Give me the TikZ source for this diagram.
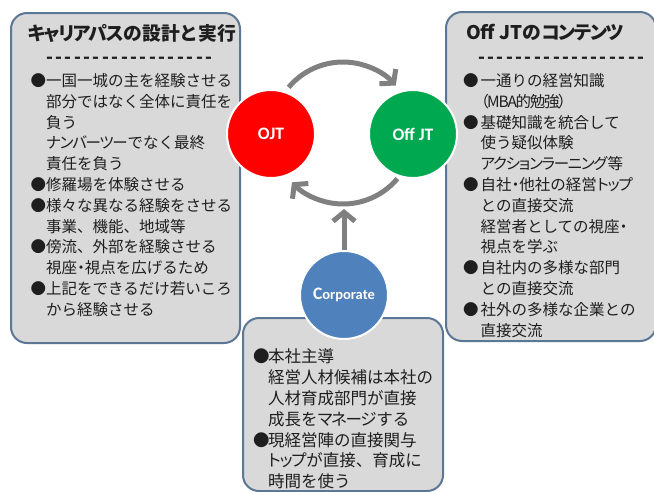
\documentclass[tikz,border=0pt]{standalone}
\usepackage{fontspec}
\setmainfont{Noto Sans CJK JP}
\newfontfamily\latinb{Carlito}
\usetikzlibrary{arrows.meta}
\definecolor{boxfill}{RGB}{217,217,217}
\definecolor{boxline}{RGB}{92,118,150}
\definecolor{txt}{RGB}{30,30,30}
\definecolor{ojtred}{RGB}{255,0,0}
\definecolor{offgreen}{RGB}{0,168,80}
\definecolor{corpblue}{RGB}{79,129,189}
\definecolor{arrgray}{RGB}{128,128,128}
\newcommand{\kp}[1]{{\addfontfeature{RawFeature=+palt,LetterSpace=-8}#1}}
\newcommand{\bl}{\makebox[15.5pt][l]{●}}
\newcommand{\ind}{\hspace*{15.5pt}}
\newcommand{\blR}{\makebox[17.5pt][l]{●}}
\newcommand{\indR}{\hspace*{17.5pt}}
\newcommand{\blB}{\makebox[15pt][l]{●}}
\newcommand{\indB}{\hspace*{15pt}}
\newcommand{\dashrow}{\hbox to 178pt{\cleaders\hbox to 9.37pt{\hss-\hss}\hfill}}
\tikzset{
  panel/.style={draw=boxline, line width=2pt, fill=boxfill, rounded corners=16pt, inner sep=0pt},
  circ/.style={circle, draw=white, line width=2pt, minimum size=88pt, inner sep=0pt, text=white,
    font=\latinb\bfseries\fontsize{17.5}{17.5}\selectfont},
  arr/.style={draw=arrgray, line width=5pt, -{Straight Barb[length=9pt,width=22pt]}},
  body/.style={anchor=base west, align=left, inner sep=0pt, text=txt, font=\fontsize{15.5}{20.8}\selectfont},
  title/.style={anchor=west, inner sep=0pt, text=txt, font=\bfseries\fontsize{18.8}{20}\selectfont},
  dashes/.style={anchor=west, inner sep=0pt, text=txt, font=\bfseries\fontsize{18}{20}\selectfont}
}
\begin{document}
\begin{tikzpicture}[x=1pt,y=-1pt]
\useasboundingbox (0,0) rectangle (654,491);
\fill[white] (0,0) rectangle (654,491);
% panels
\node[panel, minimum width=229pt, minimum height=330pt] (left) at (125.5,178) {};
\node[panel, minimum width=210pt, minimum height=329pt] (right) at (551,176.5) {};
\node[panel, minimum width=200pt, minimum height=173pt] (bottom) at (343,404.5) {};
% circles
\node[circ, fill=ojtred] (ojt) at (271,134) {OJT};
\node[circ, fill=offgreen] (off) at (413,134) {Off JT};
\node[circ, fill=corpblue, font=\latinb\bfseries\fontsize{14.5}{14.5}\selectfont] (corp) at (344,295) {{\fontsize{17.5}{17.5}\selectfont C}orporate};
% arrows
\coordinate (cc) at (343,133);
\coordinate (meet) at (344,209);
\draw[arr] ([shift={(140:71pt)}]cc) arc[start angle=140, end angle=42, radius=71pt];
\draw[arr] ([shift={(-40:71pt)}]cc) arc[start angle=-40, end angle=-136, radius=71pt];
\draw[arr] (corp.north) -- (meet);
% titles
\node[title] (lt) at (28,33) {\kp{キャリアパス}の設計と実行};
\node[title] (rt) at (466,33) {Off JTの\kp{コンテンツ}};
\node[dashes] (ld) at (40,60) {\dashrow};
\node[dashes] (rd) at (472,60) {\dashrow};
% bodies (base anchor = baseline of the last line)
\node[body] (lb) at (30.5,315.2) {\bl 一国一城の主を経験させる\\
\ind 部分ではなく全体に責任を\\
\ind 負う\\
\ind \kp{ナンバーツー}でなく最終\\
\ind 責任を負う\\
\bl 修羅場を体験させる\\
\bl 様々な異なる経験をさせる\\
\ind 事業、機能、地域等\\
\bl 傍流、外部を経験させる\\
\ind 視座\kp{・}視点を広げるため\\
\bl 上記をできるだけ若いころ\\
\ind から経験させる};
\node[body] (rb) at (463,336) {\blR 一通りの経営知識\\
\indR \kp{（MBA的勉強）}\\
\blR 基礎知識を統合して\\
\indR 使う疑似体験\\
\indR \kp{アクションラーニング}等\\
\blR 自社\kp{・}他社の経営\kp{トップ}\\
\indR との直接交流\\
\indR 経営者としての視座\kp{・}\\
\indR 視点を学ぶ\\
\blR 自社内の多様な部門\\
\indR との直接交流\\
\blR 社外の多様な企業との\\
\indR 直接交流};
\node[body, font=\fontsize{16.5}{20.8}\selectfont] (bb) at (253,487.6) {\blB 本社主導\\
\indB 経営人材候補は本社の\\
\indB 人材育成部門が直接\\
\indB 成長を\kp{マネージ}する\\
\blB 現経営陣の直接関与\\
\indB \kp{トップ}が直接、育成に\\
\indB 時間を使う};
\end{tikzpicture}
\end{document}
